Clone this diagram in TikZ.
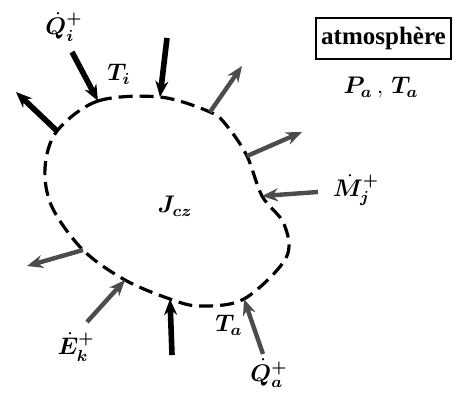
\documentclass[tikz,border=0pt]{standalone}
\usepackage{fontspec}
\setmainfont{Liberation Serif}
\usepackage{amsmath, bm}
\usetikzlibrary{arrows.meta}

\begin{document}
\begin{tikzpicture}[x=0.5pt, y=-0.5pt, >={Stealth[length=8pt,width=6.5pt]},
    flow/.style={->, line width=2.8pt},
    grayflow/.style={->, line width=2.2pt, draw=black!70, fill=black!70},
    boundary/.style={line width=1.6pt, dash pattern=on 7pt off 3.5pt},
    lbl/.style={font=\fontsize{12}{14}\selectfont}]
  \useasboundingbox (0,0) rectangle (454,392);
  % points on the boundary of the system
  \coordinate (a1) at (57,131);
  \coordinate (a2) at (98,101);
  \coordinate (a3) at (160,97);
  \coordinate (a4) at (210,112);
  \coordinate (a5) at (247,156);
  \coordinate (a6) at (262,196);
  \coordinate (a9) at (244,299);
  \coordinate (a11) at (170,299);
  \coordinate (a12) at (125,280);
  \coordinate (a13) at (83,250);
  \draw[boundary] plot[smooth cycle, tension=0.55] coordinates {
    (a1) (a2) (a3) (a4) (227,126) (a5) (a6) (284,224) (286,258) (a9)
    (200,306) (a11) (a12) (a13) (52,207) (45,168)};
  % outer ends of the arrows
  \coordinate (e1) at (16,92);
  \coordinate (e2) at (72,52);
  \coordinate (e3) at (167,38);
  \coordinate (e4) at (242,66);
  \coordinate (e5) at (302,132);
  \coordinate (e6) at (318,192);
  \coordinate (e9) at (263,354);
  \coordinate (e11) at (172,355);
  \coordinate (e12) at (87,322);
  \coordinate (e13) at (27,266);
  \draw[flow] (a1) -- (e1);
  \draw[flow] (e2) -- (a2);
  \draw[flow] (e3) -- (a3);
  \draw[grayflow] (a4) -- (e4);
  \draw[grayflow] (a5) -- (e5);
  \draw[grayflow] (e6) -- (a6);
  \draw[grayflow] (e9) -- (a9);
  \draw[flow] (e11) -- (a11);
  \draw[grayflow] (e12) -- (a12);
  \draw[grayflow] (a13) -- (e13);
  % labels
  \node[lbl] (Qi) at (64,27) {$\bm{\dot{Q}_i^{+}}$};
  \node[lbl] (Ti) at (119,74) {$\bm{T_i}$};
  \node[lbl] (Jcz) at (175,206) {$\bm{J_{cz}}$};
  \node[lbl] (Mj) at (356,190) {$\bm{\dot{M}_j^{+}}$};
  \node[lbl] (Ta) at (229,325) {$\bm{T_a}$};
  \node[lbl] (Ek) at (76,347) {$\bm{\dot{E}_k^{+}}$};
  \node[lbl] (Qa) at (269,373) {$\bm{\dot{Q}_a^{+}}$};
  \node[draw, line width=0.7pt, inner sep=0pt,
    minimum width=67.5pt, minimum height=20.5pt,
    font=\fontsize{12.5}{14}\selectfont\bfseries] (atm) at (383.5,38.5) {atmosphère};
  \node[lbl] (PT) at (381,88) {$\bm{P_a}\,,\,\bm{T_a}$};
\end{tikzpicture}
\end{document}
